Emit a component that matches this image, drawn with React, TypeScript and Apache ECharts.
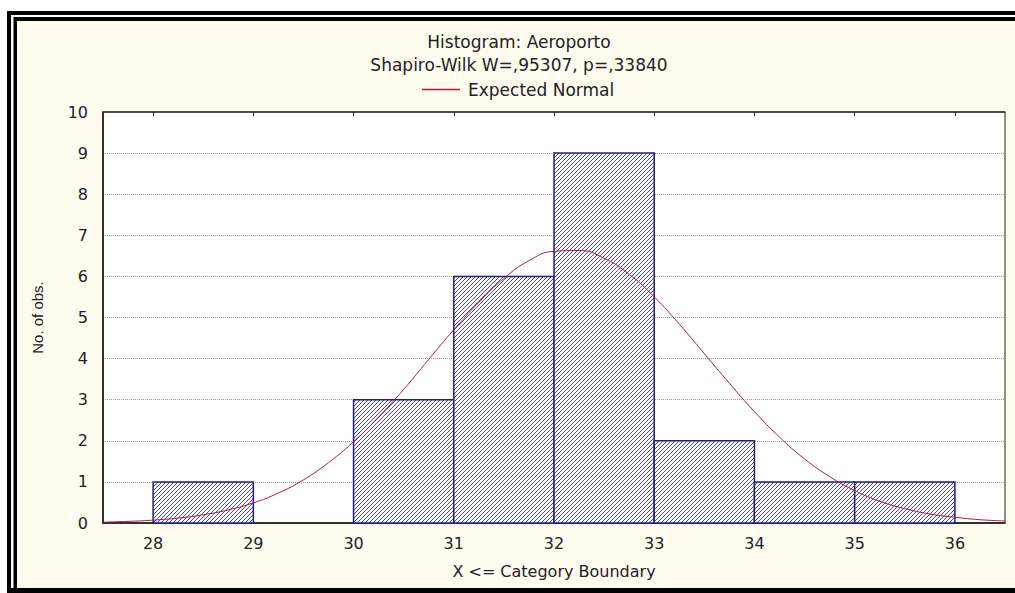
import React, { useEffect, useRef } from "react";
import * as echarts from "echarts";

// Histogram bins: [lower boundary, upper boundary, count]
const binLower = [28, 29, 30, 31, 32, 33, 34, 35];
const binUpper = [29, 30, 31, 32, 33, 34, 35, 36];
const binCounts = [1, 0, 3, 6, 9, 2, 1, 1];

// Expected normal curve
const normalX = [27.5, 27.75, 28, 28.25, 28.5, 28.75, 29, 29.25, 29.5, 29.75, 30, 30.25, 30.5, 30.75, 31, 31.25, 31.5, 31.75, 32, 32.25, 32.5, 32.75, 33, 33.25, 33.5, 33.75, 34, 34.25, 34.5, 34.75, 35, 35.25, 35.5, 35.75, 36, 36.25, 36.5];
const normalY = [0.02, 0.04, 0.07, 0.12, 0.2, 0.32, 0.49, 0.73, 1.05, 1.47, 1.98, 2.58, 3.25, 3.98, 4.7, 5.37, 5.95, 6.38, 6.61, 6.63, 6.44, 6.05, 5.5, 4.84, 4.12, 3.4, 2.71, 2.09, 1.56, 1.13, 0.79, 0.53, 0.35, 0.22, 0.14, 0.08, 0.05];

const xTicks = [28, 29, 30, 31, 32, 33, 34, 35, 36];

const titleText = "Histogram: Aeroporto";
const subtitleText = "Shapiro-Wilk W=,95307, p=,33840";
const legendName = "Expected Normal";
const xName = "X <= Category Boundary";
const yName = "No. of obs.";

const FONT = "DejaVu Sans";

function makeHatch(): HTMLCanvasElement {
  const c = document.createElement("canvas");
  c.width = 4;
  c.height = 4;
  const ctx = c.getContext("2d")!;
  ctx.fillStyle = "#ffffff";
  ctx.fillRect(0, 0, 4, 4);
  ctx.fillStyle = "#4c4c96";
  for (let i = 0; i < 4; i++) ctx.fillRect(i, 3 - i, 1, 1);
  return c;
}

export default function App() {
  const ref = useRef<HTMLDivElement>(null);
  useEffect(() => {
    if (!ref.current) return;
    const chart = echarts.init(ref.current, undefined, { renderer: "svg" });
    const hatch = { image: makeHatch(), repeat: "repeat" };
    const bins = binLower.map((l, i) => [l, binUpper[i], binCounts[i]]);
    const curve = normalX.map((x, i) => [x, normalY[i]]);

    chart.setOption({
      animation: false,
      backgroundColor: "#ffffff",
      title: [
        {
          text: titleText,
          left: 519,
          top: 32,
          textAlign: "center",
          padding: 0,
          textStyle: { fontFamily: FONT, fontSize: 17, fontWeight: "normal", color: "#222", lineHeight: 20 },
        },
        {
          text: subtitleText,
          left: 519,
          top: 55,
          textAlign: "center",
          padding: 0,
          textStyle: { fontFamily: FONT, fontSize: 17, fontWeight: "normal", color: "#222", lineHeight: 20 },
        },
      ],
      legend: {
        data: [legendName],
        left: 422,
        top: 81,
        padding: 0,
        icon: "rect",
        itemWidth: 38,
        itemHeight: 1.5,
        textStyle: { fontFamily: FONT, fontSize: 17, color: "#222", padding: [0, 0, 0, 3] },
      },
      graphic: [
        { type: "rect", z: -100, shape: { x: 7, y: 11, width: 1008, height: 582 }, style: { fill: "#000" } },
        { type: "rect", z: -99, shape: { x: 11, y: 15, width: 1004, height: 573 }, style: { fill: "#fff" } },
        { type: "rect", z: -98, shape: { x: 13.5, y: 17, width: 1002, height: 571 }, style: { fill: "#000" } },
        { type: "rect", z: -97, shape: { x: 17, y: 21, width: 998, height: 567 }, style: { fill: "#fffbef" } },
      ],
      grid: {
        left: 103,
        right: 10,
        top: 112,
        bottom: 70,
        show: true,
        backgroundColor: "#ffffff",
        borderColor: "#222",
        borderWidth: 1,
      },
      xAxis: [
        {
          type: "value",
          min: 27.5,
          max: 36.5,
          name: xName,
          nameLocation: "middle",
          nameGap: 40,
          nameTextStyle: { fontFamily: FONT, fontSize: 16, color: "#222" },
          axisLine: { show: true, lineStyle: { color: "#111", width: 1.5 } },
          axisTick: { show: false },
          splitLine: { show: false },
          axisLabel: {
            customValues: xTicks,
            margin: 12,
            fontFamily: FONT,
            fontSize: 16,
            color: "#222",
          },
        },
        {
          type: "value",
          position: "top",
          min: 27.5,
          max: 36.5,
          axisLine: { show: true, lineStyle: { color: "#333", width: 1.5 } },
          axisTick: { show: true, inside: true, length: 4, customValues: xTicks, lineStyle: { color: "#222" } },
          axisLabel: { show: false },
          splitLine: { show: false },
        },
      ],
      yAxis: {
        type: "value",
        min: 0,
        max: 10,
        interval: 1,
        name: yName,
        nameLocation: "middle",
        nameGap: 58,
        nameTextStyle: { fontFamily: "Liberation Sans", fontSize: 15, color: "#222" },
        axisLine: { show: true, lineStyle: { color: "#111", width: 1.5 } },
        axisTick: { show: false },
        axisLabel: { margin: 15, fontFamily: FONT, fontSize: 16, color: "#222" },
        splitLine: { show: true, lineStyle: { color: "#9a9a9a", type: "dotted", width: 1 } },
      },
      series: [
        {
          type: "custom",
          name: "Histogram",
          data: bins,
          z: 2,
          encode: { x: [0, 1], y: 2 },
          renderItem: (params: any, api: any) => {
            const x0 = api.value(0);
            const x1 = api.value(1);
            const y = api.value(2);
            if (!y) return null;
            const p0 = api.coord([x0, y]);
            const p1 = api.coord([x1, 0]);
            return {
              type: "rect",
              shape: { x: p0[0], y: p0[1], width: p1[0] - p0[0], height: p1[1] - p0[1] },
              style: { fill: hatch, stroke: "#1c1c8c", lineWidth: 1.5 },
            };
          },
        },
        {
          type: "line",
          name: legendName,
          data: curve,
          smooth: true,
          symbol: "none",
          z: 5,
          itemStyle: { color: "#b3173f" },
          lineStyle: { color: "#b3173f", width: 1 },
        },
      ],
    });
    return () => chart.dispose();
  }, []);
  return <div ref={ref} style={{ position: "absolute", left: 0, top: 0, width: 1015, height: 593 }} />;
}
